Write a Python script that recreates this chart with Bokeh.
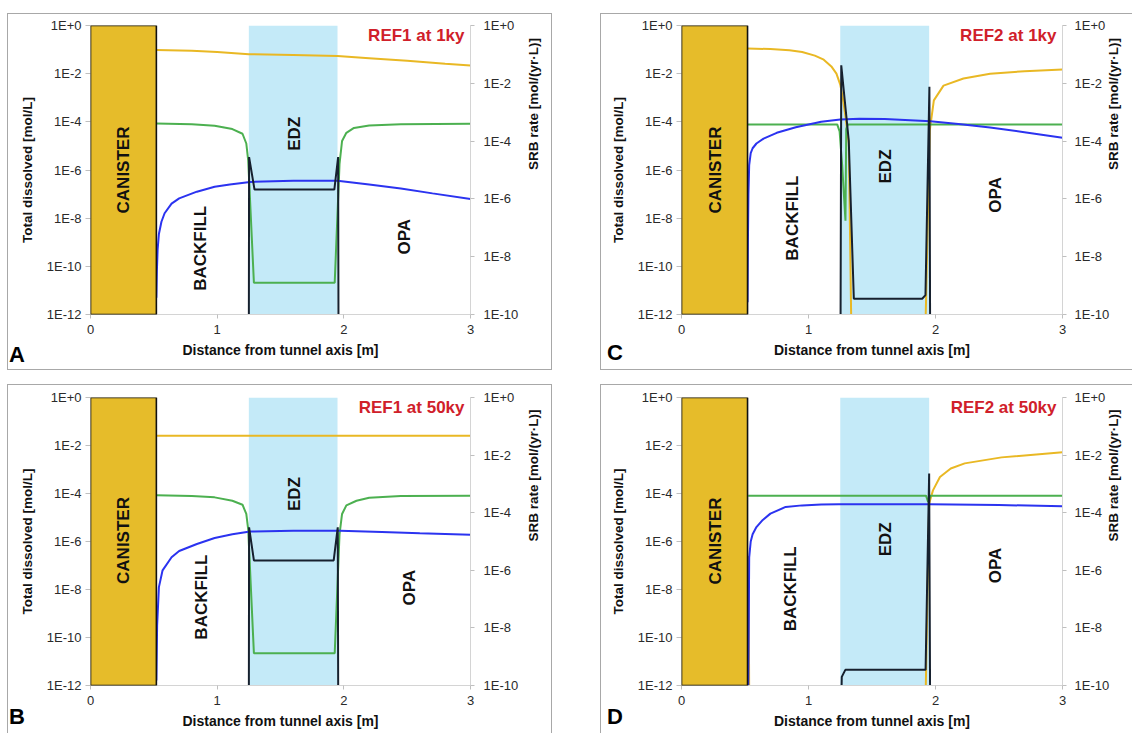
import math
import numpy as np
from bokeh.plotting import figure
from bokeh.models import (Range1d, LogAxis, LogScale, FixedTicker, BoxAnnotation,
                          Label, Spacer, CustomJSTickFormatter, Div)
from bokeh.layouts import column, row
from bokeh.embed import file_html
from bokeh.resources import INLINE

FONT = "Liberation Sans"

# ---------------- axes ----------------
X_TICKS = [0, 1, 2, 3]
X_TICK_LABELS = ["0", "1", "2", "3"]
LEFT_TICKS = [1e-12, 1e-10, 1e-8, 1e-6, 1e-4, 1e-2, 1.0]
LEFT_TICK_LABELS = ["1E-12", "1E-10", "1E-8", "1E-6", "1E-4", "1E-2", "1E+0"]
RIGHT_TICKS = [1e-10, 1e-8, 1e-6, 1e-4, 1e-2, 1.0]
RIGHT_TICK_LABELS = ["1E-10", "1E-8", "1E-6", "1E-4", "1E-2", "1E+0"]

# ---------------- zones (m) ----------------
CANISTER_EDGE = 0.52
EDZ_START = 1.25
EDZ_END = 1.95
ZONE_NAMES = ["CANISTER", "BACKFILL", "EDZ", "OPA"]

NAN = float("nan")

# ---------------- Panel A: REF1 at 1ky ----------------
A_YEL_X = [0.52, 0.8, 1.0, 1.25, 1.6, 1.95, 2.2, 2.5, 2.8, 3.0]
A_YEL_Y = [9.5e-2, 8.9e-2, 7.9e-2, 6.4e-2, 6.0e-2, 5.4e-2, 4.4e-2, 3.4e-2, 2.6e-2, 2.2e-2]
A_GRN_X = [0.52, 0.8, 0.98, 1.12, 1.2, 1.23, 1.245, 1.29, 1.928, 1.966, 1.986, 2.02, 2.08, 2.2, 2.45, 3.0]
A_GRN_Y = [8.5e-5, 7.9e-5, 6.9e-5, 5.0e-5, 3.2e-5, 1.26e-5, 2.5e-6, 2.1e-11, 2.1e-11, 1.8e-6, 1.6e-5,
           3.5e-5, 5.6e-5, 7.1e-5, 7.9e-5, 8.3e-5]
A_BLU_X = [0.52, 0.524, 0.53, 0.54, 0.56, 0.585, 0.64, 0.70, 0.84, 0.98, 1.1, 1.26, 1.6, 1.95, 2.2,
           2.45, 2.7, 3.0]
A_BLU_Y = [5.0e-12, 6.3e-11, 5.0e-10, 2.2e-9, 7.1e-9, 1.6e-8, 4.0e-8, 6.6e-8, 1.26e-7, 2.0e-7, 2.5e-7,
           3.2e-7, 3.6e-7, 3.6e-7, 2.5e-7, 1.7e-7, 1.07e-7, 6.3e-8]
A_BLK_X = [1.25, 1.252, 1.295, 1.925, 1.955, 1.958]
A_BLK_Y = [1e-11, 2.8e-5, 2.1e-6, 2.1e-6, 2.8e-5, 1e-11]

# ---------------- Panel B: REF1 at 50ky ----------------
B_YEL_X = [0.52, 3.0]
B_YEL_Y = [2.55e-2, 2.55e-2]
B_GRN_X = [0.52, 0.8, 0.98, 1.12, 1.2, 1.23, 1.245, 1.29, 1.928, 1.966, 1.986, 2.02, 2.1, 2.2, 2.45, 3.0]
B_GRN_Y = [8.5e-5, 7.9e-5, 6.9e-5, 5.0e-5, 3.4e-5, 1.4e-5, 3.2e-6, 2.2e-11, 2.2e-11, 2.0e-6, 1.4e-5,
           3.2e-5, 5.0e-5, 6.6e-5, 7.9e-5, 8.1e-5]
B_BLU_X = [0.52, 0.526, 0.54, 0.569, 0.64, 0.7, 0.84, 0.98, 1.12, 1.26, 1.6, 1.97, 2.3, 2.6, 3.0]
B_BLU_Y = [1.6e-12, 3.2e-10, 1.26e-8, 6.3e-8, 2.2e-7, 4.0e-7, 7.9e-7, 1.4e-6, 2.0e-6, 2.6e-6, 2.8e-6,
           2.8e-6, 2.5e-6, 2.2e-6, 1.9e-6]
B_BLK_X = [1.25, 1.252, 1.29, 1.92, 1.952, 1.956]
B_BLK_Y = [1e-11, 3.1e-5, 2.2e-6, 2.2e-6, 3.1e-5, 1e-11]

# ---------------- Panel C: REF2 at 1ky ----------------
C_YEL_X = [0.52, 0.7, 0.85, 0.95, 1.05, 1.12, 1.18, 1.22, 1.25, 1.27, 1.29, 1.317, 1.337, NAN,
           1.921, 1.955, 1.987, 2.063, 2.22, 2.43, 2.7, 3.0]
C_YEL_Y = [1.12e-1, 1.05e-1, 9.3e-2, 7.9e-2, 5.6e-2, 3.8e-2, 2.0e-2, 1.0e-2, 3.5e-3, 1.0e-3, 1.8e-4,
           1.26e-5, 3.2e-13, NAN, 3.2e-13, 4.4e-5, 7.8e-4, 3.2e-3, 6.3e-3, 1.0e-2, 1.26e-2, 1.5e-2]
C_GRN_X = [0.52, 1.226, 1.245, 1.265, 1.291, 1.297, 1.31, 3.0]
C_GRN_Y = [7.8e-5, 7.8e-5, 4.0e-5, 1.6e-6, 7.9e-9, 5.0e-5, 7.8e-5, 7.8e-5]
C_BLU_X = [0.52, 0.523, 0.527, 0.533, 0.545, 0.56, 0.59, 0.646, 0.75, 0.9, 1.1, 1.25, 1.4, 1.6, 1.8,
           1.96, 2.2, 2.43, 2.7, 3.0]
C_BLU_Y = [3.2e-12, 1.0e-9, 1.0e-7, 1.6e-6, 5.0e-6, 8.0e-6, 1.26e-5, 2.0e-5, 3.5e-5, 6.0e-5, 1.0e-4,
           1.26e-4, 1.35e-4, 1.32e-4, 1.17e-4, 1.05e-4, 7.9e-5, 5.8e-5, 3.7e-5, 2.2e-5]
C_BLK_X = [1.252, 1.258, 1.317, 1.357, 1.895, 1.921, 1.952, 1.958]
C_BLK_Y = [1e-11, 4.2e-2, 1.05e-4, 3.5e-10, 3.5e-10, 4.7e-10, 7.6e-3, 1e-11]

# ---------------- Panel D: REF2 at 50ky ----------------
D_YEL_X = [0.528, 0.533, NAN, 1.922, 1.95, 1.98, 2.035, 2.12, 2.23, 2.52, 3.0]
D_YEL_Y = [2.5e-7, 3.2e-13, NAN, 3.2e-13, 3.8e-5, 1.35e-4, 4.9e-4, 1.1e-3, 1.8e-3, 3.2e-3, 5.2e-3]
D_GRN_X = [0.525, 1.925, 1.942, 1.96, 3.0]
D_GRN_Y = [8.1e-5, 8.1e-5, 4.5e-5, 8.1e-5, 8.1e-5]
D_BLU_X = [0.525, 0.53, 0.533, 0.545, 0.56, 0.59, 0.64, 0.7, 0.82, 0.95, 1.1, 1.24, 1.6, 1.95, 2.5, 3.0]
D_BLU_Y = [3.2e-13, 1.0e-9, 2.2e-7, 1.0e-6, 2.0e-6, 4.0e-6, 7.9e-6, 1.45e-5, 2.75e-5, 3.2e-5, 3.5e-5,
           3.6e-5, 3.6e-5, 3.6e-5, 3.3e-5, 2.95e-5]
D_BLK_X = [1.256, 1.262, 1.29, 1.922, 1.95, 1.958]
D_BLK_Y = [1e-11, 2.0e-10, 3.5e-10, 3.5e-10, 2.3e-3, 1e-11]

# zone label anchor (x in m, y in mol/L) per panel: CANISTER, BACKFILL, EDZ, OPA
A_ZONE_AT = [(0.26, 1.0e-6), (0.865, 5.6e-10), (1.61, 3.2e-5), (2.48, 1.7e-9)]
B_ZONE_AT = [(0.26, 1.1e-6), (0.88, 4.8e-9), (1.61, 9.5e-5), (2.52, 1.2e-8)]
C_ZONE_AT = [(0.264, 1.0e-6), (0.873, 1.0e-8), (1.61, 1.4e-6), (2.475, 9.3e-8)]
D_ZONE_AT = [(0.264, 1.05e-6), (0.86, 1.07e-8), (1.61, 1.23e-6), (2.475, 1.0e-7)]

# ---------------- styles ----------------
COL_CANISTER = "#E6BC2A"
COL_EDZ = "#C4EAF8"
COL_YEL = "#E9B824"
COL_GRN = "#4CB050"
COL_BLU = "#2B33F0"
COL_BLK = "#16202E"
COL_TITLE = "#D0202A"
AXIS_GREY = "#D4D4D4"
TICK_GREY = "#BFBFBF"
TEXT_COL = "#2A2A2A"


def label_formatter(tick_values, tick_texts):
    return CustomJSTickFormatter(
        args=dict(tv=tick_values, tt=tick_texts),
        code="""
        for (let i = 0; i < tv.length; i++) {
            const a = tv[i];
            if (Math.abs(a - tick) <= 1e-9 * Math.max(Math.abs(a), 1e-300)) { return tt[i]; }
        }
        return "";
        """)


def style_axis(ax, line_color, tick_out, standoff, label_standoff):
    ax.axis_line_color = line_color
    ax.major_tick_line_color = TICK_GREY
    ax.major_tick_in = 0
    ax.major_tick_out = tick_out
    ax.minor_tick_line_color = None
    ax.major_label_text_font = FONT
    ax.major_label_text_font_size = "13px"
    ax.major_label_text_color = TEXT_COL
    ax.major_label_standoff = standoff
    ax.axis_label_text_font = FONT
    ax.axis_label_text_font_size = "13.5px"
    ax.axis_label_text_font_style = "bold"
    ax.axis_label_text_color = "#111111"
    ax.axis_label_standoff = label_standoff


def make_panel(title, yel, grn, blu, blk, zones, width, height,
               borders, right_standoffs, bottom_standoffs):
    bl, br, bt, bb = borders
    p = figure(width=width, height=height,
               x_range=Range1d(0, 3), y_range=Range1d(LEFT_TICKS[0], LEFT_TICKS[-1]),
               y_axis_type="log", output_backend="svg", toolbar_location=None, tools="",
               min_border_left=bl, min_border_right=br, min_border_top=bt, min_border_bottom=bb)
    p.extra_y_ranges = {"srb": Range1d(RIGHT_TICKS[0], RIGHT_TICKS[-1])}
    p.extra_y_scales = {"srb": LogScale()}
    p.grid.visible = False
    p.outline_line_color = None
    p.background_fill_color = "white"
    p.border_fill_color = "white"
    p.styles = {"outline": "1px solid #A8A8A8", "outline-offset": "0px"}

    # left axis
    ly = p.yaxis[0]
    ly.ticker = FixedTicker(ticks=LEFT_TICKS)
    ly.formatter = label_formatter(LEFT_TICKS, LEFT_TICK_LABELS)
    ly.axis_label = "Total dissolved [mol/L]"
    style_axis(ly, None, 5, 4, 9)

    # bottom axis
    bx = p.xaxis[0]
    bx.ticker = FixedTicker(ticks=X_TICKS)
    bx.formatter = label_formatter(X_TICKS, X_TICK_LABELS)
    bx.axis_label = "Distance from tunnel axis [m]"
    style_axis(bx, AXIS_GREY, 4, bottom_standoffs[0], bottom_standoffs[1])
    bx.axis_label_text_font_size = "14px"

    # right axis
    ry = LogAxis(y_range_name="srb", axis_label="SRB rate [mol/(yr\u00b7L)]")
    ry.ticker = FixedTicker(ticks=RIGHT_TICKS)
    ry.formatter = label_formatter(RIGHT_TICKS, RIGHT_TICK_LABELS)
    style_axis(ry, AXIS_GREY, 4, right_standoffs[0], right_standoffs[1])
    try:
        ry.axis_label_orientation = math.pi / 2
    except Exception:
        pass
    p.add_layout(ry, "right")

    # zones
    p.add_layout(BoxAnnotation(left=EDZ_START, right=EDZ_END, fill_color=COL_EDZ, fill_alpha=1.0,
                               line_color=None, level="underlay"))

    # curves
    for (xs, ys), col in zip([yel, grn, blu], [COL_YEL, COL_GRN, COL_BLU]):
        p.line(np.array(xs, dtype=float), np.array(ys, dtype=float), line_color=col, line_width=2)
    p.line(np.array(blk[0], dtype=float), np.array(blk[1], dtype=float), line_color=COL_BLK,
           line_width=2, y_range_name="srb")

    p.add_layout(BoxAnnotation(left=0, right=CANISTER_EDGE, fill_color=COL_CANISTER, fill_alpha=1.0,
                               line_color="#111111", line_width=1.6, line_alpha=1.0))

    for name, (zx, zy) in zip(ZONE_NAMES, zones):
        p.add_layout(Label(x=zx, y=zy, text=name, angle=math.pi / 2, angle_units="rad",
                           text_align="center", text_baseline="middle", text_font=FONT,
                           text_font_size="17px", text_font_style="bold", text_color="#111111"))

    p.add_layout(Label(x=3, y=LEFT_TICKS[-1], x_offset=-6, y_offset=0, text=title,
                       text_align="right", text_baseline="top", text_font=FONT,
                       text_font_size="17px", text_font_style="bold", text_color=COL_TITLE))
    return p


def letter_div(letter, width, height, pad_left, pad_top, overlap):
    html = ('<div style="padding-left:%dpx;padding-top:%dpx;font-family:\'Liberation Sans\',Arial,'
            'sans-serif;font-weight:bold;font-size:22px;line-height:22px;color:#000000;">%s</div>'
            % (pad_left, pad_top, letter))
    return Div(text=html, width=width, height=height, margin=(0, -overlap, 0, 0),
               styles={"z-index": "100"})


pA = make_panel("REF1 at 1ky", (A_YEL_X, A_YEL_Y), (A_GRN_X, A_GRN_Y), (A_BLU_X, A_BLU_Y),
                (A_BLK_X, A_BLK_Y), A_ZONE_AT, 543, 355, (82, 81, 11, 55), (9, 12), (6, 5))
pC = make_panel("REF2 at 1ky", (C_YEL_X, C_YEL_Y), (C_GRN_X, C_GRN_Y), (C_BLU_X, C_BLU_Y),
                (C_BLK_X, C_BLK_Y), C_ZONE_AT, 531, 355, (80, 70, 11, 55), (8, 1), (6, 5))
pB = make_panel("REF1 at 50ky", (B_YEL_X, B_YEL_Y), (B_GRN_X, B_GRN_Y), (B_BLU_X, B_BLU_Y),
                (B_BLK_X, B_BLK_Y), B_ZONE_AT, 543, 348, (82, 81, 12, 48), (9, 12), (6, 5))
pD = make_panel("REF2 at 50ky", (D_YEL_X, D_YEL_Y), (D_GRN_X, D_GRN_Y), (D_BLU_X, D_BLU_Y),
                (D_BLK_X, D_BLK_Y), D_ZONE_AT, 531, 348, (80, 70, 12, 48), (8, 1), (6, 5))

layout = column(
    Spacer(width=1132, height=14),
    row(letter_div("A", 30, 355, 9, 330, 22), pA, letter_div("C", 80, 355, 56, 328, 30), pC),
    Spacer(width=1132, height=16),
    row(letter_div("B", 30, 348, 9, 321, 22), pB, letter_div("D", 80, 348, 56, 321, 30), pD),
)

open("out.html", "w").write(file_html(layout, INLINE))
